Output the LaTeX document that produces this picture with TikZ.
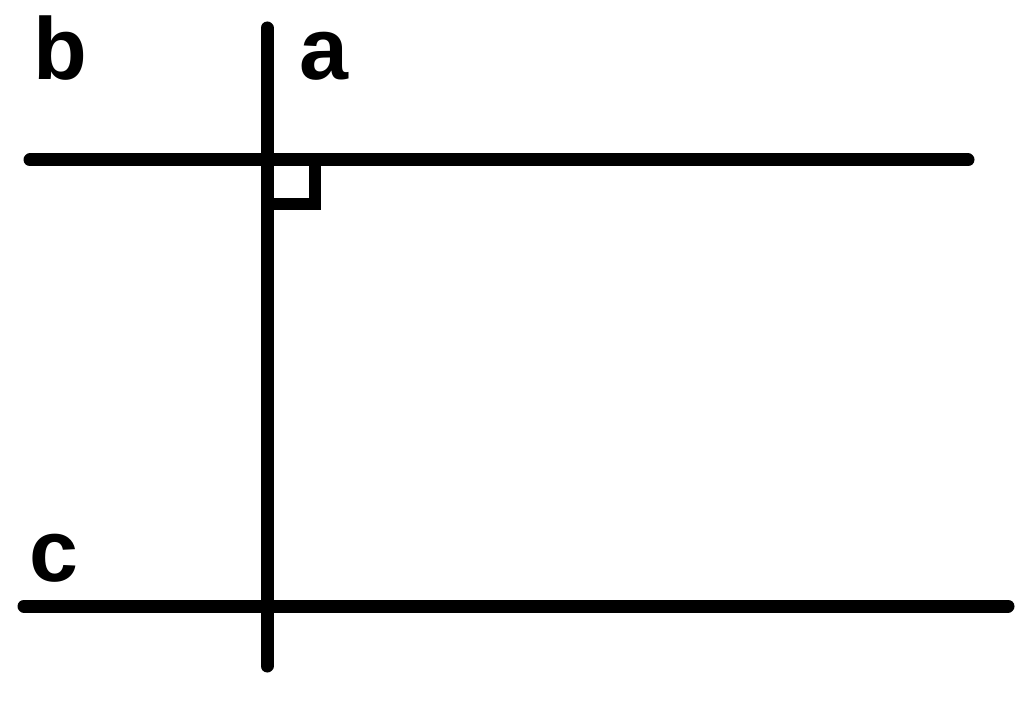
\documentclass[tikz,border=0pt]{standalone}
\usepackage{fontspec}
\setmainfont{Liberation Sans}
\begin{document}
\begin{tikzpicture}[x=1pt,y=-1pt,
  lineseg/.style={line width=13pt,line cap=round},
  ranglemark/.style={line width=12pt,line join=miter},
  lbl/.style={inner sep=0pt,anchor=base,font=\fontsize{88}{88}\selectfont\bfseries}]
\useasboundingbox (0,0) rectangle (1024,703);
\coordinate (bL) at (30,160);
\coordinate (bR) at (968,160);
\coordinate (cL) at (24,606);
\coordinate (cR) at (1008,606);
\coordinate (aT) at (267,28);
\coordinate (aB) at (267,666);
\coordinate (q1) at (267,204);
\coordinate (q2) at (315,204);
\coordinate (q3) at (315,160);
\draw[lineseg] (bL) -- (bR);
\draw[lineseg] (cL) -- (cR);
\draw[lineseg] (aT) -- (aB);
\draw[ranglemark] (q1) -- (q2) -- (q3);
\node[lbl] (lb) at (60.5,80) {b};
\node[lbl] (la) at (324,80) {a};
\node[lbl] (lc) at (53.5,581) {c};
\end{tikzpicture}
\end{document}
